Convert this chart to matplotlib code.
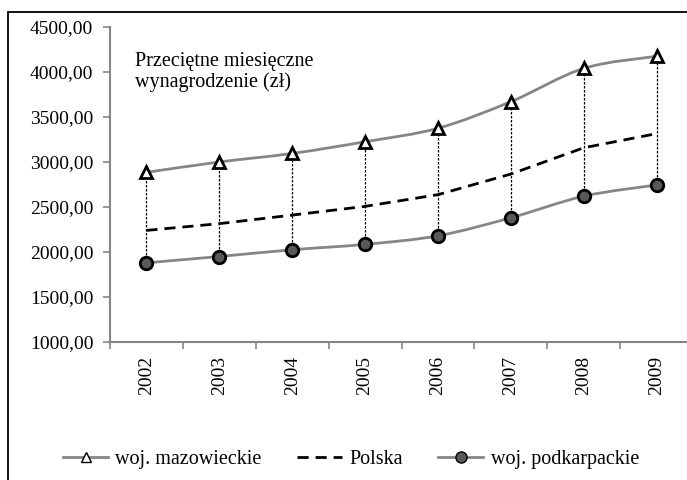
import matplotlib
matplotlib.use("Agg")
import matplotlib.pyplot as plt
import numpy as np
from matplotlib.path import Path
from matplotlib.patches import PathPatch, Rectangle
from matplotlib.lines import Line2D
from matplotlib.ticker import FuncFormatter

years = ["2002", "2003", "2004", "2005", "2006", "2007", "2008", "2009"]
mazowieckie = [2885, 3000, 3095, 3225, 3375, 3670, 4040, 4175]
polska = [2240, 2315, 2410, 2507, 2637, 2866, 3158, 3315]
podkarpackie = [1880, 1950, 2025, 2085, 2180, 2380, 2620, 2745]

plt.rcParams['font.family'] = ['Liberation Serif', 'DejaVu Serif']

fig = plt.figure(figsize=(6.87, 4.8), dpi=100)
ax = fig.add_axes([110/687, 1-342/480, 583/687, (342-27)/480])

x = np.arange(len(years))

def smooth_path(xs, ys, t=1/6):
    xs = list(xs); ys = list(ys)
    verts = [(xs[0], ys[0])]
    codes = [Path.MOVETO]
    n = len(xs)
    for i in range(n - 1):
        x0, y0 = (xs[i-1], ys[i-1]) if i > 0 else (xs[i], ys[i])
        x1, y1 = xs[i], ys[i]
        x2, y2 = xs[i+1], ys[i+1]
        x3, y3 = (xs[i+2], ys[i+2]) if i + 2 < n else (xs[i+1], ys[i+1])
        c1 = (x1 + (x2 - x0) * t, y1 + (y2 - y0) * t)
        c2 = (x2 - (x3 - x1) * t, y2 - (y3 - y1) * t)
        verts += [c1, c2, (x2, y2)]
        codes += [Path.CURVE4] * 3
    return Path(verts, codes)

gray = "#868686"
# high-low drop lines
ax.vlines(x, podkarpackie, mazowieckie, colors="black", linestyles=(0, (2, 1.2)), linewidth=0.9, zorder=2)

ax.add_patch(PathPatch(smooth_path(x, mazowieckie), fill=False, edgecolor=gray, linewidth=2, zorder=3))
ax.add_patch(PathPatch(smooth_path(x, podkarpackie), fill=False, edgecolor=gray, linewidth=2, zorder=3))
ax.plot(x, polska, color="black", linestyle=(0, (4, 2.5)), linewidth=2, zorder=3)
ax.plot(x, mazowieckie, linestyle="none", marker="^", markersize=8, markerfacecolor="white",
        markeredgecolor="black", markeredgewidth=2, zorder=4)
ax.plot(x, podkarpackie, linestyle="none", marker="o", markersize=9, markerfacecolor="#595959",
        markeredgecolor="black", markeredgewidth=2, zorder=4)

ax.set_xlim(-0.5, len(years) - 0.5)
ax.set_ylim(1000, 4500)
ax.set_yticks(np.arange(1000, 4501, 500))
ax.yaxis.set_major_formatter(FuncFormatter(lambda v, p: f"{v:.2f}".replace(".", ",")))

ax.set_xticks(np.arange(-0.5, len(years) - 0.4, 1))
ax.set_xticklabels([])
ax.set_xticks(x, minor=True)
ax.set_xticklabels(years, minor=True, rotation=90, fontsize=14)
ax.tick_params(axis="x", which="minor", length=0, pad=10)
ax.tick_params(axis="x", which="major", length=5, direction="out", color=gray, width=1.2)
ax.tick_params(axis="y", length=5, direction="out", color=gray, width=1.2, labelsize=14, pad=7)

for s in ["top", "right"]:
    ax.spines[s].set_visible(False)
for s in ["left", "bottom"]:
    ax.spines[s].set_color(gray)
    ax.spines[s].set_linewidth(1.5)

ax.text(135/687, 1-72/480, "Przeciętne miesięczne\nwynagrodzenie (zł)", transform=fig.transFigure,
        fontsize=14.5, va="center", ha="left", linespacing=1.05)

handles = [
    Line2D([], [], color=gray, linewidth=2, marker="^", markersize=7, markerfacecolor="white",
           markeredgecolor="black", markeredgewidth=1),
    Line2D([], [], color="black", linestyle=(0, (4, 2.5)), linewidth=2),
    Line2D([], [], color=gray, linewidth=2, marker="o", markersize=8, markerfacecolor="#595959",
           markeredgecolor="black", markeredgewidth=1),
]
labels = ["woj. mazowieckie", "Polska", "woj. podkarpackie"]
fig.legend(handles, labels, loc="center", bbox_to_anchor=(351/687, 1-459/480), ncol=3, frameon=False,
           fontsize=14.5, handlelength=2.25, columnspacing=1.75, handletextpad=0.35, borderpad=0)

fig.add_artist(Rectangle((8/687, -0.02), 1.0, 1-12/480 + 0.02, transform=fig.transFigure,
                         fill=False, edgecolor="black", linewidth=1.3, clip_on=False))

fig.savefig("out.png", dpi=100)
